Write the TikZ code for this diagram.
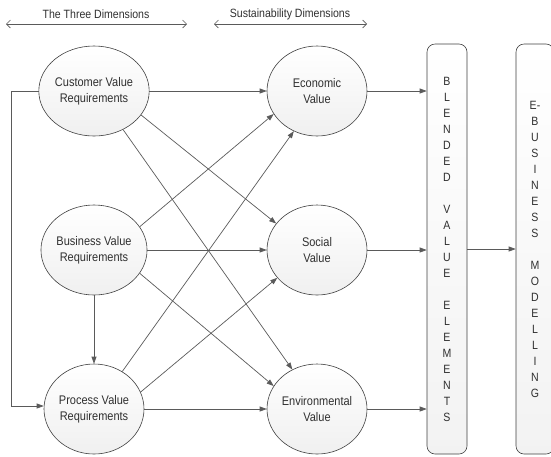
\documentclass[tikz,border=0pt]{standalone}
\usepackage{fontspec}
\setmainfont{Liberation Sans}[FakeStretch=0.88]
\usetikzlibrary{shapes.geometric,arrows.meta}
\definecolor{lc}{HTML}{5A5A5A}
\definecolor{ec}{HTML}{404040}
\definecolor{tc}{HTML}{303030}
\begin{document}
\begin{tikzpicture}[x=1pt,y=-1pt,
  val/.style={ellipse,draw=ec,line width=0.6pt,top color=white,bottom color=black!6,minimum width=100pt,minimum height=90pt,inner sep=0pt,align=center,text=tc,font=\fontsize{12.5}{16}\selectfont},
  bar/.style={rectangle,rounded corners=8pt,draw=ec,line width=0.6pt,top color=white,bottom color=black!5,minimum width=40pt,minimum height=410pt,inner sep=0pt,align=center,text=tc,font=\fontsize{12}{16}\selectfont},
  conn/.style={draw=lc,line width=0.7pt,-{Triangle[length=7pt,width=5pt]}},
  dim/.style={draw=lc,line width=0.6pt,{Straight Barb[length=4pt,width=8pt]}-{Straight Barb[length=4pt,width=8pt]}},
  lab/.style={text=tc,inner sep=0pt,font=\fontsize{12}{14}\selectfont}]
\useasboundingbox (0,0) rectangle (551,456);
\clip (0,0) rectangle (551,456);
% top dimension labels
\node[lab] (t1) at (96,14) {The Three Dimensions};
\node[lab] (t2) at (290,14) {Sustainability Dimensions};
\coordinate (d1a) at (6,24);
\coordinate (d1b) at (187,24);
\coordinate (d2a) at (214,24);
\coordinate (d2b) at (367,24);
\draw[dim] (d1a) -- (d1b);
\draw[dim] (d2a) -- (d2b);
% value nodes
\node[val] (cvr) at (94,91) {Customer Value\\Requirements};
\node[val] (bvr) at (94,250) {Business Value\\Requirements};
\node[val] (pvr) at (94,409) {Process Value\\Requirements};
\node[val] (eco) at (317,91) {Economic\\Value};
\node[val] (soc) at (317,250) {Social\\Value};
\node[val] (env) at (317,409) {Environmental\\Value};
% bars
\node[bar] (bve) at (447,249) {B\\L\\E\\N\\D\\E\\D\\[16pt]V\\A\\L\\U\\E\\[16pt]E\\L\\E\\M\\E\\N\\T\\S};
\node[bar,minimum width=38pt] (ebm) at (535,249) {E-\\B\\U\\S\\I\\N\\E\\S\\S\\[16pt]M\\O\\D\\E\\L\\L\\I\\N\\G};
% connectors
\draw[conn] (cvr.east) -- (eco.west);
\draw[conn] (cvr.-27) -- (soc.147);
\draw[conn] (cvr.-53) -- (env.122);
\draw[conn] (bvr.27) -- (eco.208);
\draw[conn] (bvr.east) -- (soc.west);
\draw[conn] (bvr.-27) -- (env.152);
\draw[conn] (pvr.53) -- (eco.240);
\draw[conn] (pvr.20) -- (soc.215);
\draw[conn] (pvr.east) -- (env.west);
\draw[conn] (bvr.south) -- (pvr.north);
\draw[conn] (cvr.west) -- ++(-27,0) |- ([yshift=3pt]pvr.west);
\draw[conn] (eco.east) -- (eco.east -| bve.west);
\draw[conn] (soc.east) -- (soc.east -| bve.west);
\draw[conn] (env.east) -- (env.east -| bve.west);
\draw[conn] (bve.east) -- (ebm.west);
\end{tikzpicture}
\end{document}
